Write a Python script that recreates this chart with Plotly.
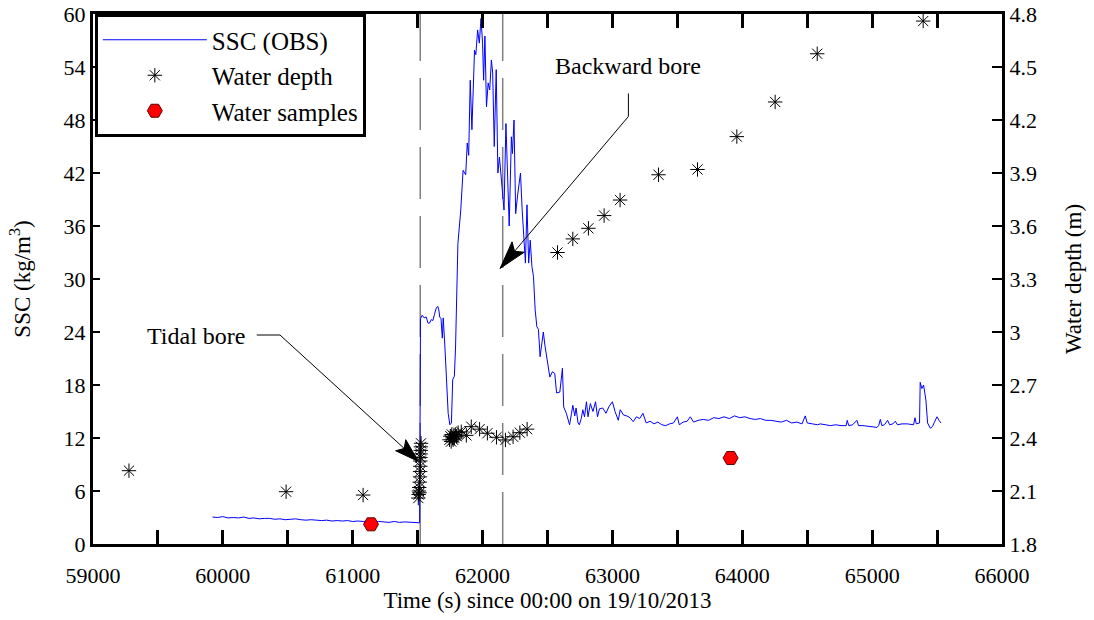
import math
import plotly.graph_objects as go

# ---------------- data ----------------
ssc_time = [59920, 59960, 60000, 60040, 60080, 60120, 60160, 60200, 60240, 60280, 60320, 60360, 60400, 60440,
            60480, 60520, 60560, 60600, 60640, 60680, 60720, 60760, 60800, 60840, 60880, 60920, 60960, 61000,
            61040, 61080, 61120, 61160, 61200, 61240, 61280, 61320, 61360, 61400, 61440, 61480, 61515,
            61522, 61535, 61550, 61566, 61580, 61591, 61605, 61617, 61630, 61643, 61655, 61663, 61670, 61680,
            61690, 61697, 61710, 61722, 61735, 61748, 61760, 61770, 61783, 61792, 61800, 61810, 61832, 61850,
            61870, 61882, 61893, 61905, 61918, 61938, 61948, 61962, 61975, 61988, 62000, 62008, 62018, 62030,
            62043, 62055, 62068, 62078, 62090, 62105, 62118, 62130, 62150, 62165, 62180, 62193, 62205, 62222,
            62230, 62242, 62255, 62270, 62292, 62305, 62330, 62342, 62355, 62367, 62380, 62392, 62405, 62418,
            62430, 62443, 62456, 62468, 62480, 62493, 62506, 62518, 62538, 62556, 62570, 62595, 62615, 62625,
            62645, 62670, 62685, 62695, 62710, 62720, 62735, 62745, 62760, 62772, 62785, 62800, 62812, 62830,
            62850, 62870, 62885, 62900, 62925, 62950, 62975, 63000, 63020, 63045, 63060, 63085, 63110, 63135,
            63160, 63185, 63210, 63235, 63260, 63290, 63320, 63350, 63380, 63410, 63440, 63470, 63500, 63515,
            63545, 63575, 63600, 63625, 63660, 63700, 63740, 63780, 63820, 63860, 63900, 63940, 63980, 64020,
            64060, 64100, 64140, 64180, 64220, 64260, 64300, 64340, 64380, 64420, 64460, 64485, 64500, 64540,
            64580, 64600, 64640, 64680, 64720, 64760, 64800, 64808, 64820, 64850, 64883, 64895, 64930, 64970,
            65000, 65037, 65050, 65063, 65075, 65095, 65119, 65135, 65160, 65178, 65195, 65230, 65270, 65300,
            65319, 65330, 65340, 65365, 65370, 65383, 65396, 65414, 65427, 65448, 65465, 65480, 65499, 65515,
            65530]
ssc_value = [3.05, 3.0, 3.1, 2.95, 3.0, 2.95, 3.05, 2.9, 2.95, 2.85, 2.9, 2.9, 2.8, 2.85,
             2.75, 2.8, 2.85, 2.75, 2.7, 2.75, 2.7, 2.65, 2.7, 2.6, 2.65, 2.6, 2.65, 2.55,
             2.6, 2.55, 2.6, 2.5, 2.55, 2.5, 2.45, 2.55, 2.45, 2.5, 2.45, 2.4, 2.4,
             25.5, 25.9, 25.6, 25.7, 25.0, 25.0, 25.4, 25.3, 26.0, 26.7, 26.9, 26.5, 25.7, 25.5,
             23.3, 25.6, 22.3, 18.6, 14.8, 13.5, 13.7, 18.6, 19.0, 22.3, 29.9, 34.0, 37.8, 42.3,
             41.8, 45.4, 44.0, 52.5, 46.9, 55.9, 55.4, 58.2, 56.7, 59.5, 56.7, 52.5, 57.5, 49.5,
             52.2, 51.4, 54.8, 53.3, 45.0, 53.7, 42.0, 43.8, 40.4, 37.8, 47.6, 40.9, 36.0, 46.1,
             44.2, 48.0, 37.4, 39.5, 42.0, 37.8, 31.8, 38.4, 31.8, 34.4, 31.4, 30.3, 26.5, 24.6,
             24.3, 21.2, 23.1, 24.0, 22.5, 21.2, 20.1, 18.9, 19.5, 19.3, 17.1, 17.2, 19.9, 15.5,
             14.8, 13.5, 14.8, 15.7, 14.5, 15.4, 13.7, 13.5, 14.2, 15.2, 14.4, 16.1, 14.4, 15.9,
             15.0, 16.1, 14.4, 15.3, 15.4, 14.8, 15.6, 16.1, 15.0, 14.0, 15.2, 14.6, 14.5, 14.3,
             13.85, 14.4, 14.2, 14.8, 13.7, 13.9, 13.6, 13.8, 13.5, 13.4, 13.6, 13.7, 14.4, 13.5,
             13.8, 13.9, 14.4, 13.8, 14.0, 14.1, 14.0, 14.3, 14.2, 14.4, 14.2, 14.5, 14.3, 14.4,
             14.2, 14.1, 14.2, 14.0, 14.0, 13.9, 13.8, 14.0, 13.7, 13.8, 13.6, 14.5, 13.7, 13.6,
             13.5, 13.6, 13.5, 13.4, 13.5, 13.4, 13.4, 14.0, 13.4, 13.5, 14.0, 13.4, 13.4, 13.3,
             13.3, 13.2, 13.4, 14.1, 13.4, 13.5, 14.0, 13.5, 13.6, 13.9, 13.5, 13.6, 13.6, 13.5,
             13.5, 14.3, 13.6, 13.7, 18.3, 17.6, 18.0, 16.3, 13.7, 13.1, 13.3, 13.8, 14.4, 14.0,
             13.7]

depth_time = [59277, 60487, 61080,
              61505, 61508, 61510, 61512, 61514, 61516, 61518, 61519, 61520, 61521, 61522, 61523, 61524,
              61525, 61526,
              61745, 61752, 61758, 61763, 61768, 61773, 61778, 61783, 61790, 61800, 61812,
              61836, 61875, 61913, 61977, 62037, 62107, 62176, 62235, 62287, 62343,
              62577, 62695, 62815, 62936, 63059, 63355, 63655, 63958, 64253, 64577, 65393]
depth_value = [2.215, 2.096, 2.077,
               2.06, 2.08, 2.10, 2.12, 2.09, 2.15, 2.18, 2.21, 2.24, 2.27, 2.29, 2.31, 2.33,
               2.35, 2.37,
               2.39, 2.41, 2.38, 2.42, 2.40, 2.39, 2.41, 2.40, 2.42, 2.41, 2.43,
               2.435, 2.415, 2.464, 2.45, 2.427, 2.404, 2.389, 2.407, 2.43, 2.45,
               3.45, 3.527, 3.587, 3.659, 3.747, 3.89, 3.92, 4.106, 4.302, 4.575, 4.76]

sample_time = [61141, 63910]
sample_value = [2.23, 9.74]

bore_times = [61520, 62155]

x_ticks = [59000, 60000, 61000, 62000, 63000, 64000, 65000, 66000]

# ---------------- figure ----------------
FONT = "Liberation Serif, Times New Roman, serif"
W, H = 1094, 620
ML, MR, MT, MB = 93, 92, 14, 76
sx = (W - ML - MR) / 7000.0   # px per second
sy = (H - MT - MB) / 60.0     # px per SSC unit

fig = go.Figure()
fig.add_trace(go.Scatter(x=ssc_time, y=ssc_value, mode="lines", name="SSC (OBS)",
                         line=dict(color="#0000ff", width=1)))
fig.add_trace(go.Scatter(x=depth_time, y=depth_value, mode="markers", name="Water depth", yaxis="y2",
                         marker=dict(symbol="asterisk-open", size=12, color="black",
                                     line=dict(color="black", width=1))))
fig.add_trace(go.Scatter(x=sample_time, y=sample_value, mode="markers", name="Water samples",
                         marker=dict(symbol="hexagon2", size=15, color="#ff0000",
                                     line=dict(color="#600000", width=1))))

shapes = []
for bt in bore_times:
    shapes.append(dict(type="line", xref="x", yref="y", x0=bt, x1=bt, y0=0, y1=60, layer="below",
                       line=dict(color="#808080", width=1.5, dash="52px,17px")))


def head_path(tip, frm, L=24, Wd=15, notch=0.8):
    dxp = (tip[0] - frm[0]) * sx
    dyp = (tip[1] - frm[1]) * sy
    n = math.hypot(dxp, dyp)
    ux, uy = dxp / n, dyp / n
    px_, py_ = -uy, ux
    pts = [(0, 0),
           (-L * ux + Wd / 2 * px_, -L * uy + Wd / 2 * py_),
           (-notch * L * ux, -notch * L * uy),
           (-L * ux - Wd / 2 * px_, -L * uy - Wd / 2 * py_)]
    coords = [(tip[0] + a / sx, tip[1] + b / sy) for a, b in pts]
    return "M " + " L ".join(f"{t:.2f},{v:.4f}" for t, v in coords) + " Z"


def seg(p, q):
    return dict(type="line", xref="x", yref="y", x0=p[0], y0=p[1], x1=q[0], y1=q[1],
                line=dict(color="black", width=1))


# Tidal bore pointer
tb_a, tb_b, tb_tip = (60261, 23.66), (60440, 23.66), (61506, 9.35)
shapes += [seg(tb_a, tb_b), seg(tb_b, tb_tip),
           dict(type="path", xref="x", yref="y", path=head_path(tb_tip, tb_b),
                fillcolor="black", line=dict(color="black", width=1))]
# Backward bore pointer
bb_a, bb_b, bb_tip = (63123, 51.0), (63123, 48.4), (62135, 31.2)
shapes += [seg(bb_a, bb_b), seg(bb_b, bb_tip),
           dict(type="path", xref="x", yref="y", path=head_path(bb_tip, bb_b, L=28, Wd=16),
                fillcolor="black", line=dict(color="black", width=1))]

annotations = [
    dict(x=59793, y=23.6, xref="x", yref="y", text="Tidal bore", showarrow=False,
         font=dict(family=FONT, size=24, color="black")),
    dict(x=63121, y=54.1, xref="x", yref="y", text="Backward bore", showarrow=False,
         font=dict(family=FONT, size=24, color="black")),
]

axis_common = dict(showgrid=False, zeroline=False, showline=True, linecolor="black", linewidth=3,
                   tickfont=dict(family=FONT, size=22, color="black"), ticks="inside",
                   tickcolor="black", automargin=False)

fig.update_layout(
    width=W, height=H,
    margin=dict(l=ML, r=MR, t=MT, b=MB, pad=0, autoexpand=False),
    paper_bgcolor="white", plot_bgcolor="white",
    font=dict(family=FONT, size=22, color="black"),
    xaxis=dict(range=[59000, 66000], tickvals=x_ticks, tickformat="d", ticklen=14, tickwidth=2.5,
               ticklabelstandoff=10,
               minor=dict(dtick=500, tick0=59000, ticks="inside", ticklen=14, tickwidth=2.5,
                          tickcolor="black"),
               mirror="allticks",
               title=dict(text="Time (s) since 00:00 on 19/10/2013", standoff=4,
                          font=dict(family=FONT, size=23, color="black")),
               **axis_common),
    yaxis=dict(range=[0, 60], tick0=0, dtick=6, ticklen=7, tickwidth=2,
               title=dict(text="SSC (kg/m<sup>3</sup>)", standoff=27,
                          font=dict(family=FONT, size=23, color="black")),
               **axis_common),
    yaxis2=dict(range=[1.8, 4.8], tick0=1.8, dtick=0.3, ticklen=10, tickwidth=2,
                overlaying="y", side="right",
                title=dict(text="Water depth (m)", standoff=29,
                           font=dict(family=FONT, size=23, color="black")),
                **axis_common),
    legend=dict(x=0.002, y=1, xanchor="left", yanchor="top", bgcolor="white",
                bordercolor="black", borderwidth=3, itemwidth=104,
                font=dict(family=FONT, size=25, color="black"), tracegroupgap=0),
    shapes=shapes,
    annotations=annotations,
    showlegend=True,
)

# remove the page's default 8px body margin so the figure sits at the window origin
fig.write_html("out.html", config={"displayModeBar": False},
               post_script="document.body.style.margin='0px';")
